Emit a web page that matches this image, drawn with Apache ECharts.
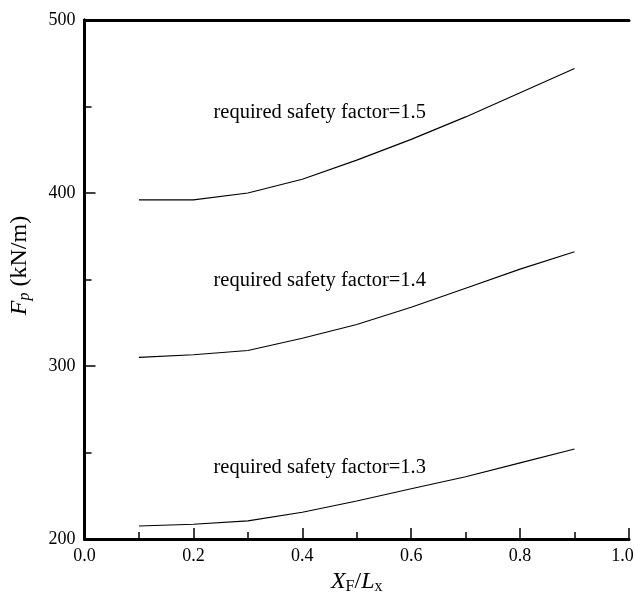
<!DOCTYPE html>
<html lang="en">
<head>
    <meta charset="UTF-8">
    <title>Fp vs XF/Lx</title>
    <script src="https://cdn.jsdelivr.net/npm/echarts@6/dist/echarts.min.js"></script>
    <style type="text/css">
        html, body {
            margin: 0;
            padding: 0;
            background: #fff;
        }
        #main {
            width: 635px;
            height: 599px;
        }
    </style>
</head>
<body>
<div id="main"></div>
<script type="text/javascript">
    // x positions (XF/Lx)
    var xPos = [0.1, 0.2, 0.3, 0.4, 0.5, 0.6, 0.7, 0.8, 0.9];
    // Fp (kN/m)
    var fs15 = [396, 396, 400, 408, 419, 431, 444, 458, 472];
    var fs14 = [305, 306.5, 309, 316, 324, 334, 345, 356, 366];
    var fs13 = [207.5, 208.5, 210.5, 215.5, 222, 229, 236, 244, 252];
    var seriesNames = ['required safety factor=1.5', 'required safety factor=1.4', 'required safety factor=1.3'];
    // where the labels sit
    var labelPos = [[0.432, 446.5], [0.432, 349.5], [0.432, 241]];

    var serif = 'Liberation Serif, Times New Roman, serif';

    function pairs(ys) {
        var out = [];
        for (var i = 0; i < xPos.length; i++) {
            out.push([xPos[i], ys[i]]);
        }
        return out;
    }

    function makeSeries(name, ys, lp) {
        return {
            name: name,
            type: 'line',
            data: pairs(ys),
            showSymbol: false,
            symbol: 'none',
            lineStyle: {color: '#000', width: 1.1},
            silent: true,
            markPoint: {
                symbol: 'circle',
                symbolSize: 0,
                data: [{coord: lp}],
                label: {
                    show: true,
                    position: 'inside',
                    formatter: name,
                    color: '#000',
                    fontFamily: serif,
                    fontSize: 20.5
                }
            }
        };
    }

    var myChart = echarts.init(document.getElementById('main'));
    var option = {
        animation: false,
        grid: {left: 84.5, right: 6, top: 20, bottom: 60, outerBoundsMode: 'none', containLabel: false},
        xAxis: [
            {
                type: 'value',
                min: 0,
                max: 1,
                interval: 0.2,
                name: '{i|X}{s|F}{n|/}{i|L}{s|x}',
                nameLocation: 'middle',
                nameGap: 30,
                nameTextStyle: {
                    rich: {
                        i: {fontFamily: serif, fontStyle: 'italic', fontSize: 24, color: '#000'},
                        n: {fontFamily: serif, fontSize: 24, color: '#000'},
                        s: {fontFamily: serif, fontSize: 16, color: '#000', padding: [9, 0, 0, 0]}
                    }
                },
                axisLine: {lineStyle: {color: '#000', width: 3}},
                axisTick: {inside: true, length: 11, lineStyle: {color: '#000', width: 1.5}},
                minorTick: {show: true, splitNumber: 2, length: 7, lineStyle: {color: '#000', width: 1.5}},
                splitLine: {show: false},
                axisLabel: {
                    color: '#000', fontFamily: serif, fontSize: 18, margin: 8,
                    formatter: function (v) {
                        // last label sits a little inside the frame
                        return v === 1 ? '{m|' + v.toFixed(1) + '}' : v.toFixed(1);
                    },
                    rich: {
                        m: {color: '#000', fontFamily: serif, fontSize: 18, padding: [0, 13, 0, 0]}
                    }
                }
            },
            {
                type: 'value',
                position: 'top',
                min: 0,
                max: 1,
                axisLine: {show: true, lineStyle: {color: '#000', width: 3}},
                axisTick: {show: false},
                axisLabel: {show: false},
                splitLine: {show: false}
            }
        ],
        yAxis: [
            {
                type: 'value',
                min: 200,
                max: 500,
                interval: 100,
                name: '{i|F}{s|p}{n| (kN/m)}',
                nameLocation: 'middle',
                nameGap: 52,
                nameTextStyle: {
                    padding: [0, 0, 0, 28],
                    rich: {
                        i: {fontFamily: serif, fontStyle: 'italic', fontSize: 24, color: '#000'},
                        n: {fontFamily: serif, fontSize: 24, color: '#000'},
                        s: {fontFamily: serif, fontStyle: 'italic', fontSize: 16, color: '#000', padding: [9, 0, 0, 0]}
                    }
                },
                axisLine: {show: true, lineStyle: {color: '#000', width: 3}},
                axisTick: {inside: true, length: 11, lineStyle: {color: '#000', width: 1.5}},
                minorTick: {show: true, splitNumber: 2, length: 7, lineStyle: {color: '#000', width: 1.5}},
                splitLine: {show: false},
                axisLabel: {color: '#000', fontFamily: serif, fontSize: 18, margin: 9}
            },
            {
                type: 'value',
                position: 'right',
                min: 200,
                max: 500,
                axisLine: {show: true, lineStyle: {color: '#000', width: 3}},
                axisTick: {show: false},
                axisLabel: {show: false},
                splitLine: {show: false}
            }
        ],
        series: [
            makeSeries(seriesNames[0], fs15, labelPos[0]),
            makeSeries(seriesNames[1], fs14, labelPos[1]),
            makeSeries(seriesNames[2], fs13, labelPos[2])
        ]
    };
    myChart.setOption(option);
</script>
</body>
</html>
